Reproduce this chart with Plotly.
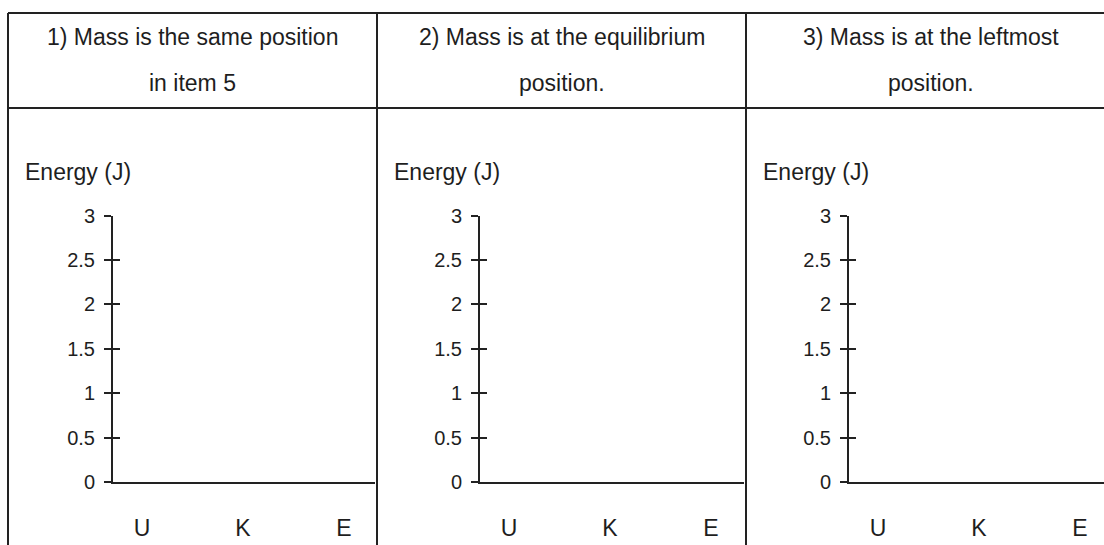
import plotly.graph_objects as go

# Worksheet: three blank energy bar charts (U, K, E) under a header row
categories = ["U", "K", "E"]
panel_titles = [
    ["1) Mass is the same position", "in item 5"],
    ["2) Mass is at the equilibrium", "position."],
    ["3) Mass is at the leftmost", "position."],
]
# energies are left blank for the student to fill in
panel_values = [
    [None, None, None],
    [None, None, None],
    [None, None, None],
]
y_ticks = [0, 0.5, 1, 1.5, 2, 2.5, 3]
y_ticktext = ["0", "0.5", "1", "1.5", "2", "2.5", "3"]
y_label = "Energy (J)"

W, H = 1104, 545
FONT = "Liberation Sans, Arial, sans-serif"
INK = "#1e1e1e"
LINE = "#222222"

# layout of the table (pixels)
col_edges = [8, 377, 746, 1115]
table_top, header_bottom = 13, 108
axis_left = [113, 480, 849]
axis_right = [375, 744, 1104]
plot_top, plot_bottom = 215.7, 482
cat_step = 101.0
first_cat_offset = 29.0


def px_x(v):
    return v / W


def px_y(v):
    return 1 - v / H


fig = go.Figure()
layout = dict(
    width=W, height=H, autosize=False,
    margin=dict(l=0, r=0, t=0, b=0, pad=0, autoexpand=False),
    paper_bgcolor="white", plot_bgcolor="white",
    showlegend=False,
    font=dict(family=FONT, color=INK),
)

for i in range(3):
    n = i + 1
    xa = "x" if n == 1 else f"x{n}"
    ya = "y" if n == 1 else f"y{n}"
    ya_in = f"y{n + 3}"
    left, right = axis_left[i], axis_right[i]
    x0 = -first_cat_offset / cat_step
    x1 = x0 + (right - left) / cat_step
    ydom = [px_y(plot_bottom), px_y(plot_top)]

    fig.add_trace(go.Bar(x=categories, y=panel_values[i], xaxis=xa, yaxis=ya,
                         marker_color="#555555", hoverinfo="skip"))
    fig.add_trace(go.Scatter(x=categories, y=panel_values[i], xaxis=xa, yaxis=ya_in,
                             mode="markers", hoverinfo="skip"))

    layout[f"xaxis{'' if n == 1 else n}"] = dict(
        domain=[px_x(left), px_x(right)], anchor=ya,
        type="category", categoryorder="array", categoryarray=categories,
        range=[x0, x1], automargin=False,
        showline=True, linecolor=LINE, linewidth=2,
        showgrid=False, zeroline=False, ticks="",
        tickfont=dict(size=23, color=INK, family=FONT),
        ticklabelstandoff=24,
        fixedrange=True,
    )
    layout[f"yaxis{'' if n == 1 else n}"] = dict(
        domain=ydom, anchor=xa, range=[0, 3], automargin=False,
        tickvals=y_ticks, ticktext=y_ticktext,
        showline=True, linecolor=LINE, linewidth=2,
        showgrid=False, zeroline=False,
        ticks="outside", ticklen=7, tickwidth=1.5, tickcolor=LINE,
        tickfont=dict(size=20, color=INK, family=FONT),
        ticklabelstandoff=5,
        fixedrange=True,
    )
    # second axis gives the tick marks that cross to the inside
    layout[f"yaxis{n + 3}"] = dict(
        domain=ydom, anchor=xa, overlaying=ya, side="left", range=[0, 3],
        automargin=False,
        tickvals=y_ticks, showticklabels=False,
        showline=False, showgrid=False, zeroline=False,
        ticks="inside", ticklen=7, tickwidth=1.5, tickcolor=LINE,
        fixedrange=True,
    )

annotations = []
for i, lines in enumerate(panel_titles):
    cx = (col_edges[i] + col_edges[i + 1]) / 2
    for j, txt in enumerate(lines):
        annotations.append(dict(
            text=txt, x=px_x(cx), y=px_y([37, 83][j]),
            xref="paper", yref="paper", xanchor="center", yanchor="middle",
            showarrow=False, font=dict(size=23, color=INK, family=FONT),
        ))
    annotations.append(dict(
        text=y_label, x=px_x(col_edges[i] + 15), y=px_y(172),
        xref="paper", yref="paper", xanchor="left", yanchor="middle",
        showarrow=False, font=dict(size=23, color=INK, family=FONT),
    ))
layout["annotations"] = annotations

shapes = []
for yy in (table_top, header_bottom):
    shapes.append(dict(type="line", xref="paper", yref="paper",
                       x0=px_x(col_edges[0]), x1=1, y0=px_y(yy), y1=px_y(yy),
                       line=dict(color=LINE, width=2)))
for xx in col_edges[:3]:
    shapes.append(dict(type="line", xref="paper", yref="paper",
                       x0=px_x(xx), x1=px_x(xx), y0=px_y(table_top), y1=0,
                       line=dict(color=LINE, width=2)))
layout["shapes"] = shapes

fig.update_layout(**layout)
fig.write_html("out.html", config={"displayModeBar": False})
